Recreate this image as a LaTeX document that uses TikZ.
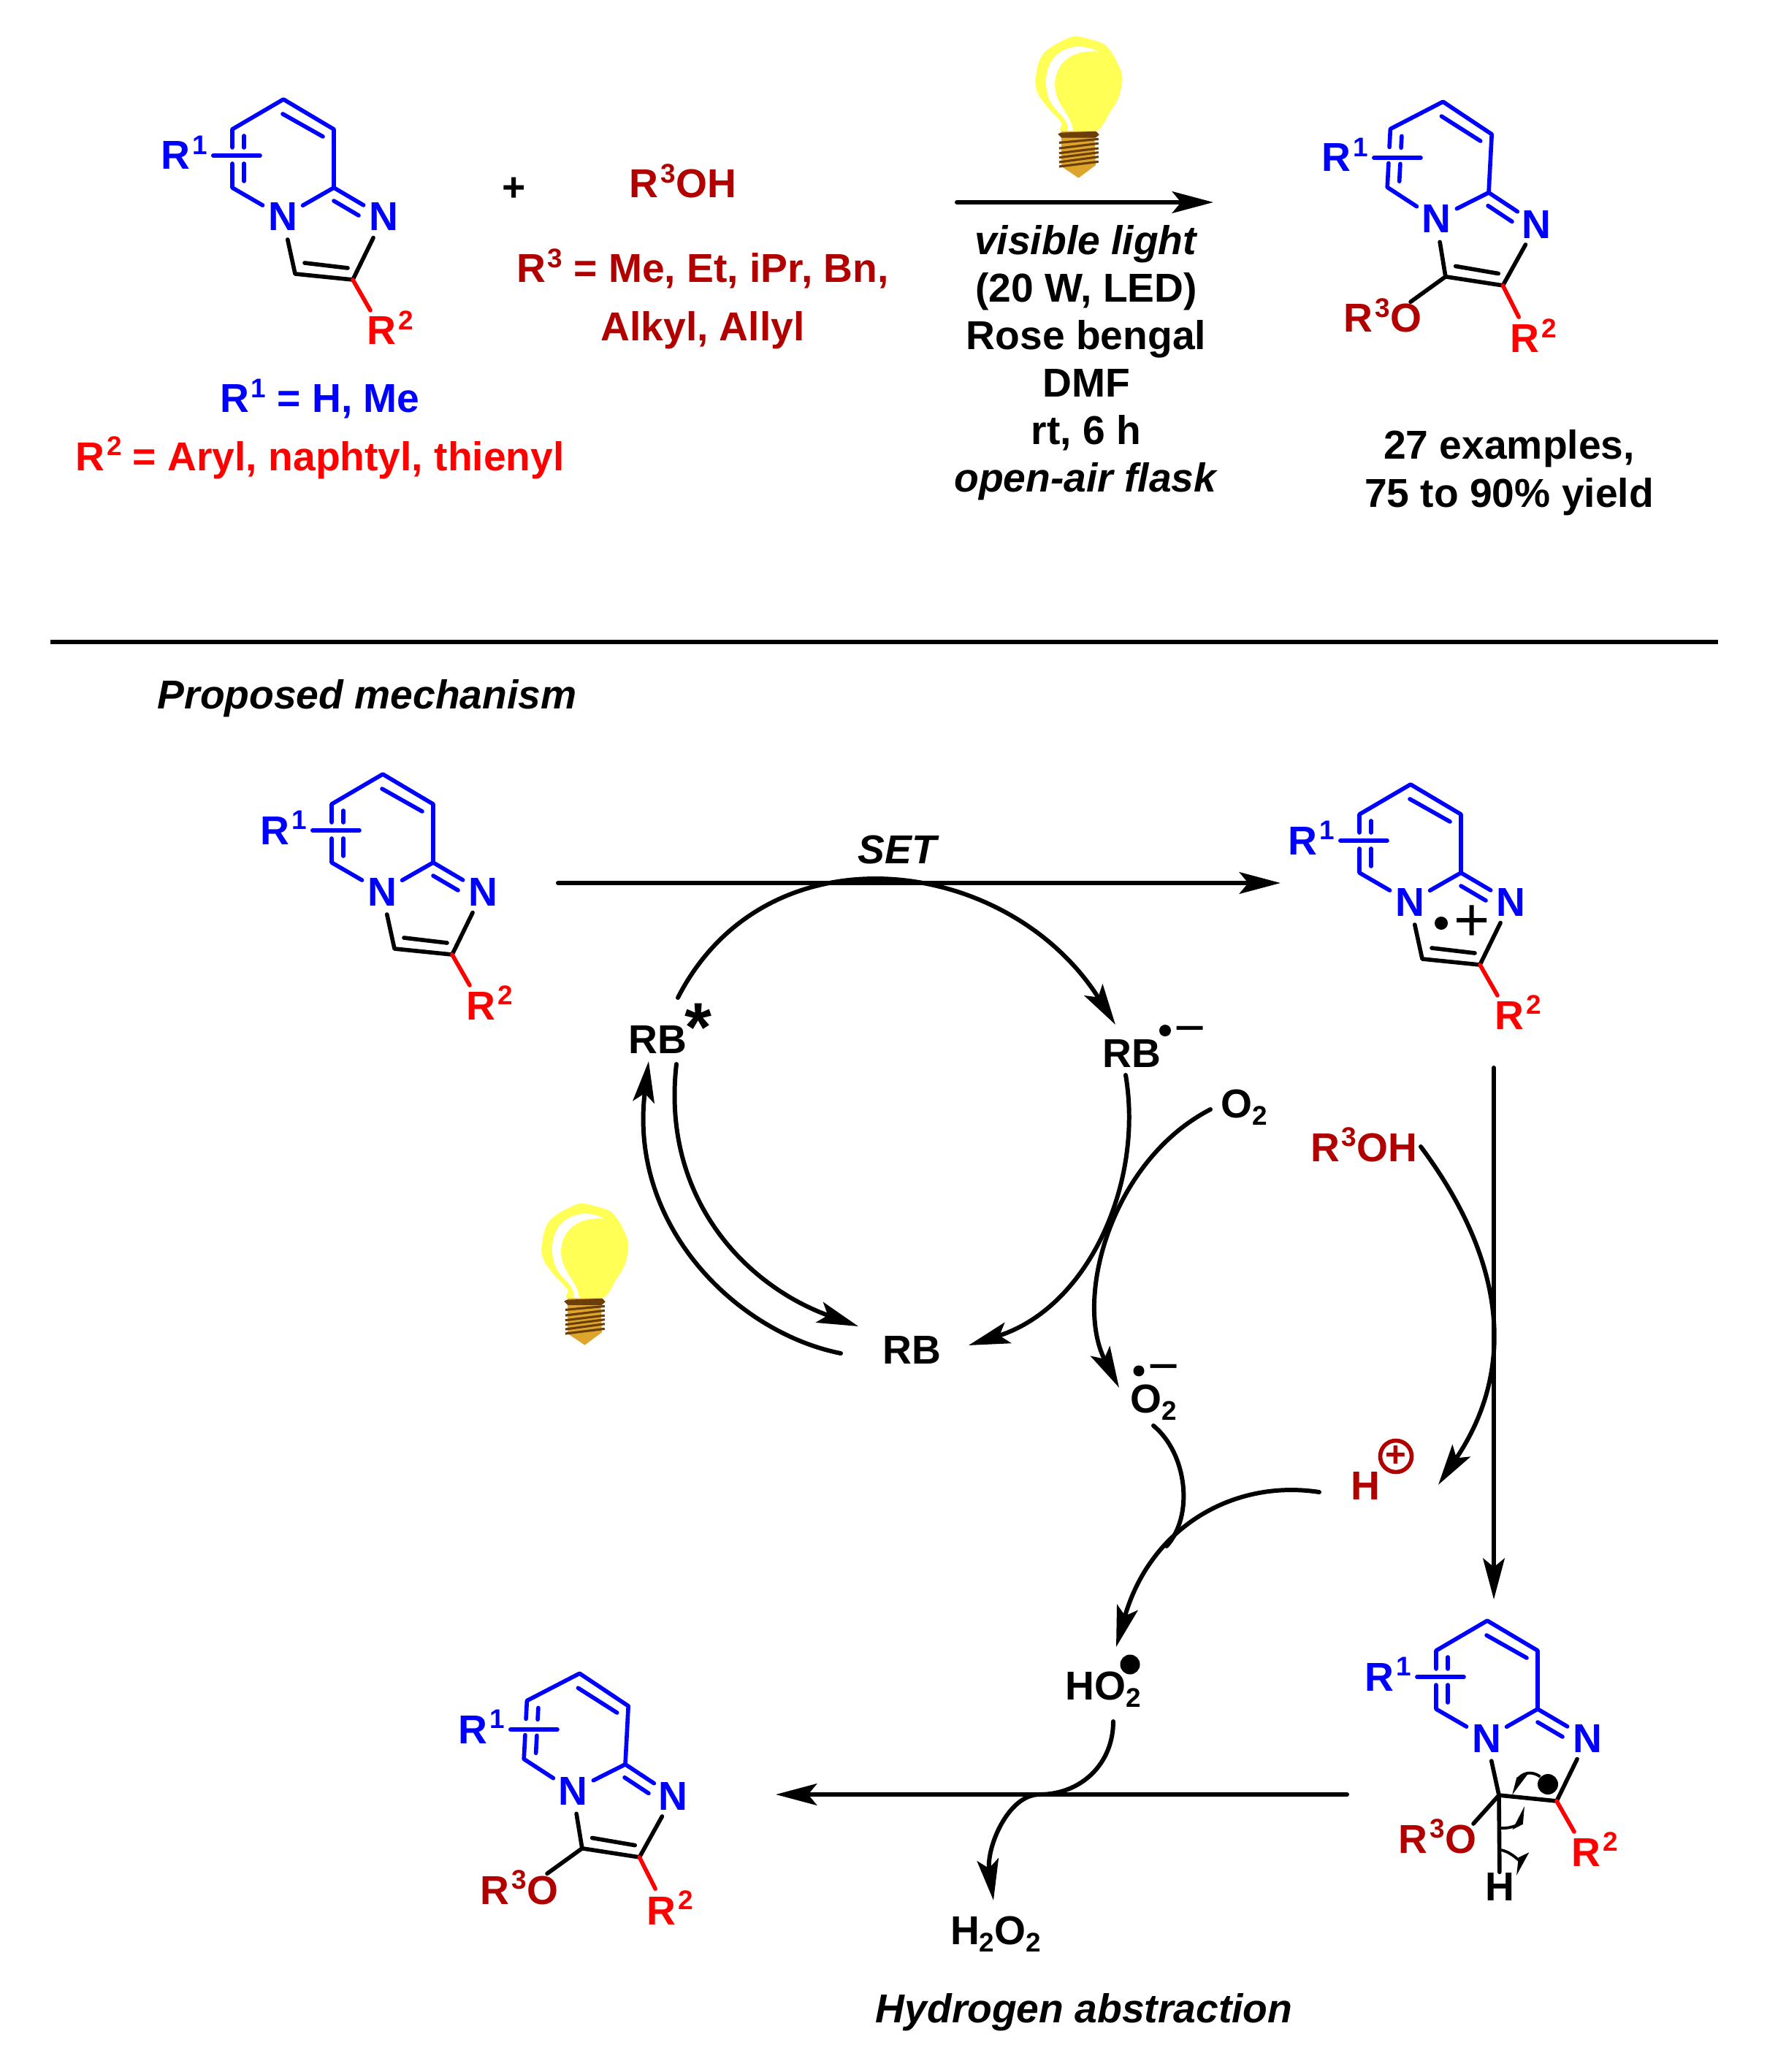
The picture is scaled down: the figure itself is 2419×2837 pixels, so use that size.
\documentclass[tikz,border=0pt]{standalone}
\usepackage{fontspec}
\setmainfont{Liberation Sans}
\usetikzlibrary{arrows.meta}

\definecolor{ringblue}{HTML}{0000FF}
\definecolor{darkred}{HTML}{B00000}
\definecolor{bulbyellow}{HTML}{FFFF55}
\definecolor{bulbgold}{HTML}{DDA52B}
\definecolor{bulbbrown}{HTML}{6B3F07}

\newcommand{\sps}[1]{\kern0.8pt\raisebox{5.7pt}{\fontsize{10.5}{10.5}\selectfont #1}}
\newcommand{\sbs}[1]{\raisebox{-3pt}{\fontsize{10.5}{10.5}\selectfont #1}}

\tikzset{
atom/.style={circle,minimum size=0.62cm,inner sep=0pt,text=ringblue},
bluelab/.style={text=ringblue,anchor=base},
redlab/.style={text=red,anchor=base},
darklab/.style={text=darkred,anchor=base},
blacklab/.style={anchor=base},
bluebond/.style={draw=ringblue,line width=1.6pt,line cap=round,line join=round},
blackbond/.style={draw=black,line width=1.6pt,line cap=round,line join=round},
redbond/.style={draw=red,line width=1.6pt,line cap=round},
bighead/.style={-{Stealth[length=16pt,width=8.4pt,inset=3.4pt]}},
rxnarrow/.style={line width=1.7pt,line cap=round,bighead},
curvearrow/.style={line width=1.7pt,line cap=round},
halfarrow/.style={line width=1.1pt,-{Stealth[harpoon,length=8pt,width=6.5pt,inset=2pt]}},
radical/.style={circle,fill=black,inner sep=0pt},
bigplus/.style={font=\fontsize{24}{24}\selectfont\mdseries},
chargeminus/.style={font=\fontsize{21}{21}\selectfont\mdseries}
}

\newcommand{\molring}[5]{%
\begin{scope}[shift={(#2,#3)}]
\begin{scope}[rotate=#4]
\node[atom] (#1n4) at (0,0) {N};
\node[atom] (#1n1) at (138,0) {N};
\coordinate (#1top) at (1,-161);
\coordinate (#1ur) at (70,-120);
\coordinate (#1ca) at (70,-40);
\coordinate (#1cf) at (-69,-40);
\coordinate (#1ul) at (-69,-120);
\coordinate (#1c3) at (17,78);
\coordinate (#1c2) at (96,86);
\coordinate (#1ia) at (30,63);
\coordinate (#1ib) at (89,70);
\coordinate (#1oend) at (-29,115);
\coordinate (#1rend) at (120,128);
\draw[bluebond] (#1ca)--(#1ur)--(#1top)--(#1ul)--(-69,-95);
\draw[bluebond] (-69,-73)--(#1cf)--(#1n4);
\draw[bluebond] (#1n4)--(#1ca)--(#1n1);
\draw[bluebond] (0,-141)--(55,-110);
\draw[bluebond] (70,-22)--(104,-2);
\draw[bluebond] (-53,-111)--(-53,-95);
\draw[bluebond] (-53,-73)--(-53,-49);
\end{scope}
\node[bluelab,inner xsep=2pt] (#1r1) at (-134.5+#5,-65) {R\sps{1}};
\coordinate (#1bar) at (-31+#5,-84);
\draw[bluebond] (#1r1.east |- #1bar)--(#1bar);
\end{scope}}

\newcommand{\lightbulb}[2]{%
\begin{scope}[shift={(#1,#2)},x=0.003333cm,y=-0.003333cm]
\fill[bulbyellow] plot[smooth cycle,tension=0.5] coordinates {(270,60)(340,72)(400,95)(440,150)(470,225)(455,310)(420,370)(362,450)(220,450)(220,415)(170,360)(125,300)(112,250)(125,170)(150,125)(200,90)};
\fill[white] (372,122) .. controls (320,95) and (250,90) .. (195,140) .. controls (150,185) and (145,270) .. (175,330) .. controls (195,370) and (247,390) .. (247,447) -- (267,447) .. controls (267,400) and (210,350) .. (196,290) .. controls (180,220) and (215,110) .. (372,122);
\fill[bulbgold] (220,450)--(355,450)--(360,590)--(290,642)--(220,595)--cycle;
\fill[bulbbrown] (205,462)--(215,456)--(362,450)--(375,464)--(360,477)--(220,477)--cycle;
\foreach \ya/\yb in {497/482,520/500,540/520,558/537,577/555,595/575}
\draw[bulbbrown,line width=0.9pt] (210,\ya)--(372,\yb);
\end{scope}}

\begin{document}
\begin{tikzpicture}[x=0.01cm,y=-0.01cm,every text node part/.style={align=center},every node/.style={inner sep=0pt,font=\fontsize{15.7}{18.5}\selectfont\bfseries}]
\useasboundingbox (0,0) rectangle (2419,2837);

\molring{a}{387}{297}{0}{0}
\draw[blackbond] (an4)--(ac3)--(ac2)--(an1);
\draw[blackbond] (aia)--(aib);
\draw[redbond] (ac2)--(arend);
\node[redlab] (ar2) at (534,472) {R\sps{2}};

\node[blacklab] (plus) at (704,276) {+};
\node[darklab] (roh) at (935,271) {R\sps{3}OH};
\node[darklab] (rgroup) at (962,387) {R\sps{3} = Me, Et, iPr, Bn,};
\node[darklab] (rlist) at (962,467) {Alkyl, Allyl};
\node[bluelab] (rone) at (438,565) {R\sps{1} = H, Me};
\node[redlab] (rtwo) at (438,644) {R\sps{2} = Aryl, naphtyl, thienyl};

\lightbulb{1380}{30}
\coordinate (rxna) at (1310,277);
\coordinate (rxnb) at (1661,277);
\draw[rxnarrow] (rxna)--(rxnb);
\node (cond) at (1487,497) {\textit{visible light}\\(20 W, LED)\\Rose bengal\\DMF\\rt, 6 h\\\textit{open-air flask}};

\molring{b}{1966}{300}{-3}{10}
\draw[blackbond] (bn4)--(bc3)--(bc2)--(bn1);
\draw[blackbond] (bia)--(bib);
\draw[blackbond] (bc3)--(boend);
\draw[redbond] (bc2)--(brend);
\node[darklab] (bro) at (1893,455) {R\sps{3}O};
\node[redlab] (br2) at (2099,483) {R\sps{2}};
\node[blacklab] (yielda) at (2066,629) {27 examples,};
\node[blacklab] (yieldb) at (2066,694) {75 to 90\% yield};

\coordinate (rulea) at (69,879);
\coordinate (ruleb) at (2352,879);
\draw[line width=1.6pt] (rulea)--(ruleb);
\node[blacklab,anchor=base west] (propmech) at (215,970) {\textit{Proposed mechanism}};

\molring{c}{523}{1221}{0}{0}
\draw[blackbond] (cn4)--(cc3)--(cc2)--(cn1);
\draw[blackbond] (cia)--(cib);
\draw[redbond] (cc2)--(crend);
\node[redlab] (cr2) at (670,1396) {R\sps{2}};

\molring{d}{1930}{1235}{0}{0}
\draw[blackbond] (dn4)--(dc3)--(dc2)--(dn1);
\draw[blackbond] (dia)--(dib);
\draw[redbond] (dc2)--(drend);
\node[redlab] (dr2) at (2078,1409) {R\sps{2}};
\node[radical,minimum size=0.18cm] (ddot) at (1973,1264) {};
\node[bigplus] (dplus) at (2015,1264) {+};

\coordinate (seta) at (764,1209);
\coordinate (setb) at (1753,1209);
\draw[rxnarrow] (seta)--(setb);
\node (setlab) at (1230,1163) {\textit{SET}};

\node[blacklab] (rbstar) at (900,1442) {RB};
\node[anchor=north,font=\fontsize{27}{27}\selectfont\bfseries] (star) at (956,1373) {*};
\node[blacklab] (rbrad) at (1549,1461) {RB};
\node[radical,minimum size=0.16cm] (rbdot) at (1595,1411) {};
\node[chargeminus] (rbminus) at (1629,1419) {−};
\node[blacklab] (rb) at (1248,1867) {RB};
\node[blacklab] (otwo) at (1703,1530) {O\sbs{2}};
\node[blacklab] (oxrad) at (1579,1934) {O\sbs{2}};
\node[radical,minimum size=0.15cm] (oxdot) at (1559,1877) {};
\node[chargeminus] (oxminus) at (1593,1882) {−};
\node[darklab] (mroh) at (1867,1590) {R\sps{3}OH};
\node[darklab] (hplus) at (1869,2053) {H};
\node[circle,draw=darkred,line width=1.6pt,minimum size=0.43cm,text=darkred,font=\fontsize{14}{14}\selectfont\bfseries] (hcirc) at (1911,1994) {+};
\node[blacklab] (hoo) at (1510,2327) {HO\sbs{2}};
\node[radical,minimum size=0.27cm] (hoodot) at (1547,2279) {};
\node[blacklab] (hhoo) at (1363,2662) {H\sbs{2}O\sbs{2}};

\lightbulb{704}{1628}

\draw[curvearrow,bighead] ([shift={(28,-76)}]rbstar.base) .. controls (1050,1128) and (1380,1170) .. ([shift={(-22,-58)}]rbrad.base);
\draw[curvearrow,bighead] ([shift={(-8,11)}]rbrad.base) .. controls (1566,1620) and (1490,1790) .. ([shift={(78,-25)}]rb.base);
\draw[curvearrow,bighead] ([shift={(-97,-14)}]rb.base) .. controls (1010,1825) and (860,1680) .. ([shift={(-12,11)}]rbstar.base);
\draw[curvearrow,bighead] ([shift={(26,15)}]rbstar.base) .. controls (905,1640) and (1020,1760) .. ([shift={(-73,-51)}]rb.base);
\draw[curvearrow,bighead] ([shift={(-46,-11)}]otwo.base) .. controls (1520,1590) and (1470,1780) .. ([shift={(-47,-34)}]oxrad.base);
\draw[curvearrow,bighead] ([shift={(78,-20)}]mroh.base) .. controls (2062,1727) and (2076,1875) .. ([shift={(100,-20)}]hplus.base);
\coordinate (merge) at (1597,2117);
\draw[curvearrow] ([shift={(0,18)}]oxrad.base) .. controls (1625,1990) and (1635,2075) .. (merge);
\draw[curvearrow,bighead] ([shift={(-63,-10)}]hplus.base) .. controls (1690,2025) and (1575,2090) .. ([shift={(18,-72)}]hoo.base);
\draw[curvearrow,bighead] ([shift={(14,30)}]hoo.base) .. controls (1524,2415) and (1480,2457) .. (1423,2457) .. controls (1380,2457) and (1350,2530) .. ([shift={(-3,-60)}]hhoo.base);

\coordinate (vtop) at (2045,1462);
\coordinate (vend) at (2045,2190);
\draw[rxnarrow] (vtop)--(vend);

\molring{e}{2035}{2380}{0}{0}
\draw[blackbond] (en4)--(ec3)--(ec2)--(en1);
\coordinate (eoend) at (2017,2497);
\node[darklab] (ero) at (1968,2537) {R\sps{3}O};
\node[redlab] (er2) at (2183,2555) {R\sps{2}};
\node[blacklab] (eh) at (2053,2602) {H};
\draw[blackbond] (ec3)--(eoend);
\draw[blackbond] (ec3)--(eh);
\draw[redbond] (ec2)--(erend);
\node[radical,minimum size=0.28cm] (edot) at (2119,2443) {};
\draw[halfarrow] (edot.north west) .. controls (2090,2420) and (2078,2435) .. ([shift={(20,0)}]ec3);
\draw[halfarrow] ([shift={(2,45)}]ec3) .. controls ([shift={(19,46)}]ec3) and ([shift={(31,38)}]ec3) .. ([shift={(33,15)}]ec3);
\draw[halfarrow] ([shift={(2,-69)}]eh.base) .. controls ([shift={(19,-65)}]eh.base) and ([shift={(27,-52)}]eh.base) .. ([shift={(25,-34)}]eh.base);

\coordinate (lowa) at (1844,2457);
\coordinate (lowb) at (1062,2457);
\draw[rxnarrow] (lowa)--(lowb);

\molring{f}{784}{2452}{-3}{10}
\draw[blackbond] (fn4)--(fc3)--(fc2)--(fn1);
\draw[blackbond] (fia)--(fib);
\draw[blackbond] (fc3)--(foend);
\draw[redbond] (fc2)--(frend);
\node[darklab] (fro) at (711,2607) {R\sps{3}O};
\node[redlab] (fr2) at (917,2635) {R\sps{2}};
\node[blacklab] (habs) at (1484,2769) {\textit{Hydrogen abstraction}};

\end{tikzpicture}
\end{document}
